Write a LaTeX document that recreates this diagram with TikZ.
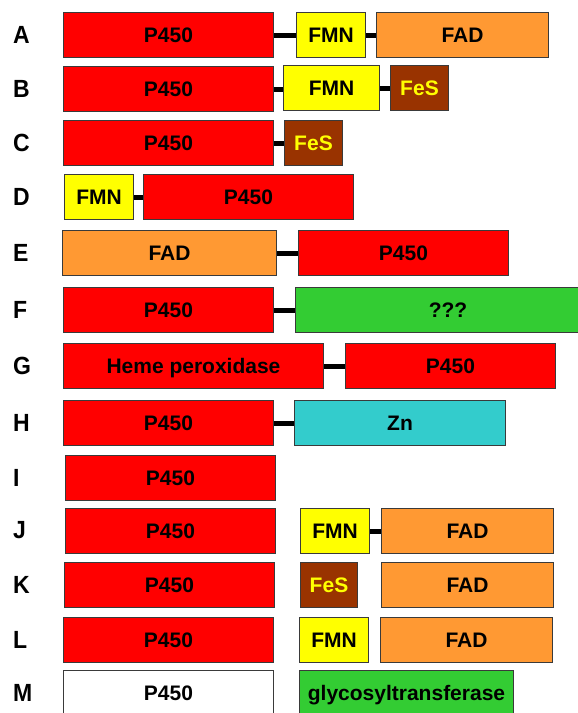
\documentclass[tikz,border=0pt]{standalone}
\usepackage{fontspec}
\setmainfont{Liberation Sans}
\usetikzlibrary{positioning}
\definecolor{hemered}{HTML}{FF0000}
\definecolor{fmnyellow}{HTML}{FFFF00}
\definecolor{fadorange}{HTML}{FF9933}
\definecolor{fesbrown}{HTML}{993300}
\definecolor{unkgreen}{HTML}{33CC33}
\definecolor{zncyan}{HTML}{33CCCC}
\definecolor{edge}{HTML}{3A3A3A}

\begin{document}
\begin{tikzpicture}[x=1pt,y=-1pt]
      \tikzset{
        dom/.style={rectangle,draw=edge,line width=1pt,anchor=north west,
            minimum height=45pt,inner sep=0pt,text height=16pt,text depth=1pt,
            font=\fontsize{21}{24}\selectfont\bfseries},
        p450/.style={dom,fill=hemered,minimum width=210pt},
        fmn/.style={dom,fill=fmnyellow},
        fad/.style={dom,fill=fadorange},
        fes/.style={dom,fill=fesbrown,text=fmnyellow},
        zn/.style={dom,fill=zncyan},
        unk/.style={dom,fill=unkgreen},
        tag/.style={anchor=west,inner sep=0pt,font=\fontsize{23}{26}\selectfont\bfseries},
        link/.style={draw=black,line width=5pt}
      }
      \useasboundingbox (0,0) rectangle (578,713);
      \clip (0,0) rectangle (578,713);
      \fill[white] (0,0) rectangle (578,713);

      % row labels
      \foreach \t/\y in {A/12,B/66,C/120,D/174,E/230,F/287,G/343,H/400,I/455,J/508,K/562,L/617,M/670}{
          \node[tag] (tag\t) at (13,\y+22.5) {\scalebox{1}[1.08]{\t}};
        }

      % A
      \node[p450] (pa) at (63,12) {P450};
      \node[fmn,minimum width=69pt] (fmna) at (296,12) {FMN};
      \node[fad,minimum width=172pt] (fada) at (376,12) {FAD};
      \draw[link] (pa.east)--(fmna.west);
      \draw[link] (fmna.east)--(fada.west);

      % B
      \node[p450] (pb) at (63,66) {P450};
      \node[fmn,minimum width=96pt] (fmnb) at (283,65) {FMN};
      \node[fes,minimum width=58pt] (fesb) at (390,65) {FeS};
      \draw[link] (pb.east)--(pb.east -| fmnb.west);
      \draw[link] (fmnb.east)--(fesb.west);

      % C
      \node[p450] (pc) at (63,120) {P450};
      \node[fes,minimum width=58pt] (fesc) at (284,120) {FeS};
      \draw[link] (pc.east)--(fesc.west);

      % D
      \node[fmn,minimum width=69pt] (fmnd) at (64,174) {FMN};
      \node[p450] (pd) at (143,174) {P450};
      \draw[link] (fmnd.east)--(pd.west);

      % E
      \node[fad,minimum width=214pt] (fade) at (62,230) {FAD};
      \node[p450] (pe) at (298,230) {P450};
      \draw[link] (fade.east)--(pe.west);

      % F
      \node[p450] (pf) at (63,287) {P450};
      \node[unk,minimum width=305pt,text width=283pt,align=center] (unkf) at (295,287) {???};
      \draw[link] (pf.east)--(unkf.west);

      % G
      \node[p450,minimum width=260pt] (hemeg) at (63,343) {Heme peroxidase};
      \node[p450] (pg) at (345,343) {P450};
      \draw[link] (hemeg.east)--(pg.west);

      % H
      \node[p450] (ph) at (63,400) {P450};
      \node[zn,minimum width=211pt] (znh) at (294,400) {Zn};
      \draw[link] (ph.east)--(znh.west);

      % I
      \node[p450] (pi) at (65,455) {P450};

      % J
      \node[p450] (pj) at (65,508) {P450};
      \node[fmn,minimum width=69pt] (fmnj) at (300,508) {FMN};
      \node[fad,minimum width=172pt] (fadj) at (381,508) {FAD};
      \draw[link] (fmnj.east)--(fadj.west);

      % K
      \node[p450] (pk) at (64,562) {P450};
      \node[fes,minimum width=57pt] (fesk) at (300,562) {FeS};
      \node[fad,minimum width=172pt] (fadk) at (381,562) {FAD};

      % L
      \node[p450] (pl) at (63,617) {P450};
      \node[fmn,minimum width=69pt] (fmnl) at (299,617) {FMN};
      \node[fad,minimum width=172pt] (fadl) at (380,617) {FAD};

      % M
      \node[p450,fill=white] (pm) at (63,670) {P450};
      \node[unk,minimum width=214pt] (glym) at (299,670) {glycosyltransferase};
    \end{tikzpicture}
\end{document}
